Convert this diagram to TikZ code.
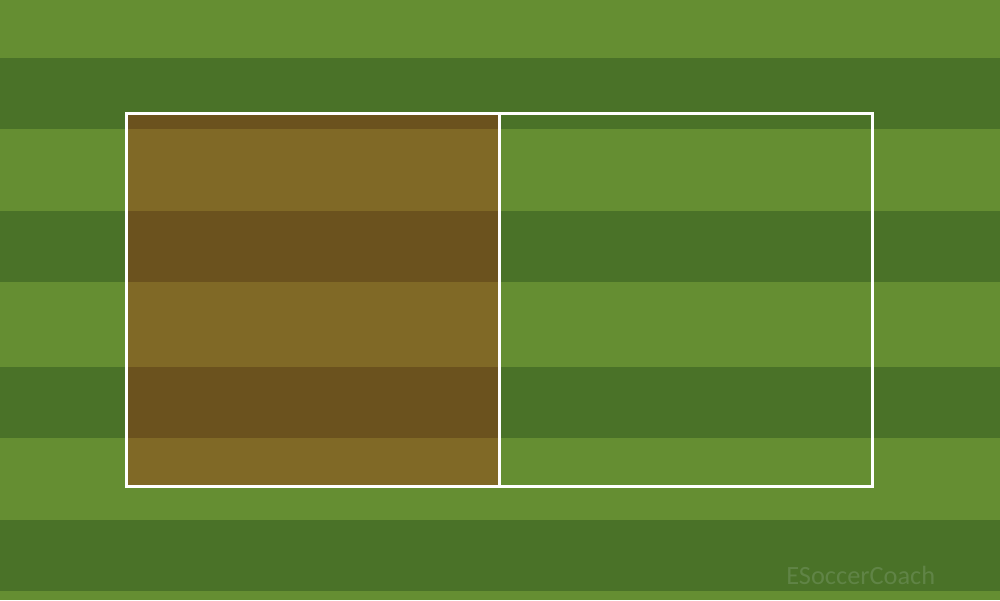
\documentclass[tikz,border=0pt]{standalone}
\usepackage{fontspec}
\newfontfamily\markfont{Carlito}
\usetikzlibrary{positioning}
\definecolor{grasslight}{RGB}{101,142,50}
\definecolor{grassdark}{RGB}{74,114,40}
\definecolor{mudlight}{RGB}{128,105,38}
\definecolor{muddark}{RGB}{107,82,30}
\definecolor{markgreen}{RGB}{96,132,70}

\begin{document}
\begin{tikzpicture}[x=0.02cm, y=-0.02cm,
  pitchline/.style={draw=white, line width=1.7pt},
  watermark/.style={font=\markfont\fontsize{15}{17}\selectfont,
    text=markgreen, inner sep=0pt}
]
\useasboundingbox (0,0) rectangle (1000,600);
% grass stripes
\foreach \ya/\yb/\shade in {0/58/light, 58/129/dark, 129/211/light,
  211/282/dark, 282/367/light, 367/438/dark, 438/520/light,
  520/591/dark, 591/600/light}
  \fill[grass\shade] (0,\ya) rectangle (1000,\yb);
% worn half of the grid
\begin{scope}
  \clip (126.5,113.5) rectangle (499.5,486.5);
  \foreach \ya/\yb/\shade in {58/129/dark, 129/211/light,
    211/282/dark, 282/367/light, 367/438/dark, 438/520/light}
    \fill[mud\shade] (0,\ya) rectangle (1000,\yb);
\end{scope}
% grid
\draw[pitchline] (126.5,113.5) rectangle (872.5,486.5);
\draw[pitchline] (499.5,113.5) -- (499.5,486.5);
\node[watermark, anchor=base west] (mark) at (786,584) {ESoccerCoach};
\end{tikzpicture}
\end{document}
